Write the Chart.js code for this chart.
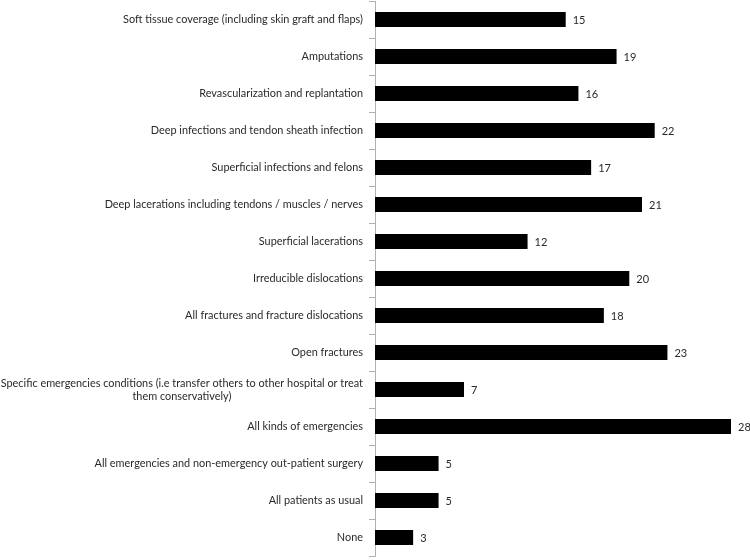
<!DOCTYPE html>
<html>
<head>
<meta charset="utf-8">
<script src="https://cdn.jsdelivr.net/npm/chart.js@4"></script>
<style>
html,body{margin:0;padding:0;background:#fff;}
#wrap{width:750px;height:560px;}
</style>
</head>
<body>
<div id="wrap"><canvas id="c" width="750" height="560"></canvas></div>
<script>
const categories = [
  "Soft tissue coverage (including skin graft and flaps)",
  "Amputations",
  "Revascularization and replantation",
  "Deep infections and tendon sheath infection",
  "Superficial infections and felons",
  "Deep lacerations including tendons / muscles / nerves",
  "Superficial lacerations",
  "Irreducible dislocations",
  "All fractures and fracture dislocations",
  "Open fractures",
  ["Specific emergencies conditions (i.e transfer others to other hospital or treat", "them conservatively)"],
  "All kinds of emergencies",
  "All emergencies and non-emergency out-patient surgery",
  "All patients as usual",
  "None"
];
const values = [15, 19, 16, 22, 17, 21, 12, 20, 18, 23, 7, 28, 5, 5, 3];

const FONT = "Lato, 'Open Sans', sans-serif";
const TEXT = '#2a2a2a';

// value labels at bar ends
const valueLabels = {
  id: 'valueLabels',
  afterDatasetsDraw(chart) {
    const ctx = chart.ctx;
    const meta = chart.getDatasetMeta(0);
    ctx.save();
    ctx.fillStyle = TEXT;
    ctx.font = '11px ' + FONT;
    ctx.textAlign = 'left';
    ctx.textBaseline = 'middle';
    meta.data.forEach((bar, i) => {
      ctx.fillText(String(values[i]), bar.x + 7, bar.y + 1);
    });
    ctx.restore();
  }
};

// category labels: right-aligned block, multi-line labels centred within block
const categoryLabels = {
  id: 'categoryLabels',
  afterDraw(chart) {
    const ctx = chart.ctx;
    const ys = chart.scales.y;
    const right = ys.right - 12;
    const lh = 13;
    ctx.save();
    ctx.fillStyle = TEXT;
    ctx.font = '10.9px ' + FONT;
    ctx.textBaseline = 'middle';
    chart.data.labels.forEach((lab, i) => {
      const lines = Array.isArray(lab) ? lab : [lab];
      const cy = ys.getPixelForValue(i);
      const w = Math.max(...lines.map(l => ctx.measureText(l).width));
      const cx = right - w / 2;
      ctx.textAlign = 'center';
      lines.forEach((l, k) => {
        const y = cy + (k - (lines.length - 1) / 2) * lh;
        ctx.fillText(l, cx, y);
      });
    });
    ctx.restore();
  }
};

new Chart(document.getElementById('c'), {
  type: 'bar',
  data: {
    labels: categories,
    datasets: [{
      data: values,
      backgroundColor: '#000',
      borderWidth: 0,
      barPercentage: 0.4,
      categoryPercentage: 1.0
    }]
  },
  options: {
    indexAxis: 'y',
    responsive: false,
    animation: false,
    layout: { padding: { top: 1, bottom: 4, right: 19, left: 0 } },
    plugins: { legend: { display: false }, tooltip: { enabled: false } },
    scales: {
      x: { display: false, min: 0, max: 28 },
      y: {
        afterFit: (s) => { s.width = 375; s.paddingTop = 0; s.paddingBottom = 0; },
        grid: { drawOnChartArea: false, drawTicks: true, tickLength: 6, offset: true, color: '#b0b0b0' },
        border: { display: true, color: '#b0b0b0' },
        ticks: { display: false }
      }
    }
  },
  plugins: [valueLabels, categoryLabels]
});
</script>
</body>
</html>
